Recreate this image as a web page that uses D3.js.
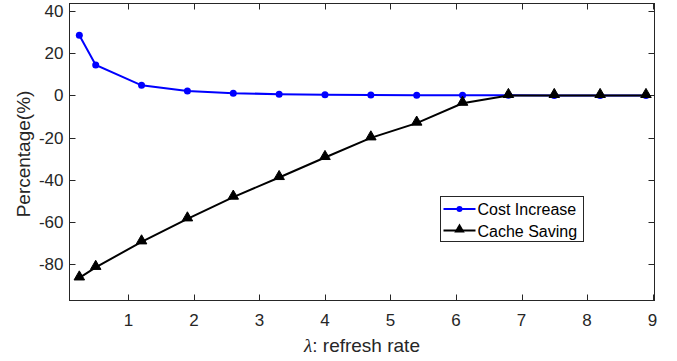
<!DOCTYPE html>
<html>
<head>
<meta charset="utf-8">
<script src="https://cdn.jsdelivr.net/npm/d3@7"></script>
<style>
  body { margin: 0; background: #fff; }
  text { font-family: "Liberation Sans", Arial, sans-serif; }
</style>
</head>
<body>
<div id="chart"></div>
<script>
const refreshRate = [0.25, 0.5, 1.2, 1.9, 2.6, 3.3, 4.0, 4.7, 5.4, 6.1, 6.8, 7.5, 8.2, 8.9];
const costIncrease = [28.5, 14.5, 4.8, 2.1, 1.1, 0.6, 0.35, 0.2, 0.15, 0.1, 0.05, 0, 0, 0];
const cacheSaving = [-86.5, -81.5, -69.4, -58.5, -48.2, -38.9, -29.4, -20.1, -13.1, -3.7, 0, 0, 0, 0];
const xTicks = [1, 2, 3, 4, 5, 6, 7, 8, 9];
const yTicks = [-80, -60, -40, -20, 0, 20, 40];

const width = 677;
const height = 361;
const plotL = 69.5, plotR = 654.5, plotT = 3.5, plotB = 300.5;
const axisColor = '#262626';

// Scales
var x = d3.scaleLinear().domain([0.1, 9.03]).range([plotL, plotR]);
var y = d3.scaleLinear().domain([-97.2, 43.6]).range([plotB, plotT]);

var svg = d3.select('#chart')
  .append('svg')
  .attr('width', width)
  .attr('height', height);

// Box
svg.append('rect')
  .attr('x', plotL).attr('y', plotT)
  .attr('width', plotR - plotL).attr('height', plotB - plotT)
  .attr('fill', 'none').attr('stroke', axisColor).attr('stroke-width', 1);

// Ticks on all four sides, pointing inward
var tickLen = 6;
xTicks.forEach(function (t) {
  var px = Math.round(x(t)) + 0.5;
  svg.append('line').attr('x1', px).attr('x2', px).attr('y1', plotB).attr('y2', plotB - tickLen)
    .attr('stroke', axisColor);
  svg.append('line').attr('x1', px).attr('x2', px).attr('y1', plotT).attr('y2', plotT + tickLen)
    .attr('stroke', axisColor);
  svg.append('text').text(t)
    .attr('x', x(t)).attr('y', plotB + 25)
    .attr('text-anchor', 'middle').attr('font-size', '17px').attr('fill', axisColor);
});
yTicks.forEach(function (t) {
  var py = Math.round(y(t)) + 0.5;
  svg.append('line').attr('x1', plotL).attr('x2', plotL + tickLen).attr('y1', py).attr('y2', py)
    .attr('stroke', axisColor);
  svg.append('line').attr('x1', plotR).attr('x2', plotR - tickLen).attr('y1', py).attr('y2', py)
    .attr('stroke', axisColor);
  svg.append('text').text(t)
    .attr('x', plotL - 6).attr('y', y(t) + 6)
    .attr('text-anchor', 'end').attr('font-size', '17px').attr('fill', axisColor);
});

// Axis labels
svg.append('text')
  .attr('x', 362).attr('y', 352)
  .attr('text-anchor', 'middle').attr('font-size', '19px').attr('fill', axisColor)
  .html('<tspan font-style="italic" font-family="Liberation Serif, serif">λ</tspan>: refresh rate');
svg.append('text')
  .text('Percentage(%)')
  .attr('transform', 'translate(30,' + ((plotT + plotB) / 2 + 2) + ') rotate(-90)')
  .attr('text-anchor', 'middle').attr('font-size', '19px').attr('fill', axisColor);

var line = d3.line().x(function (d) { return x(d[0]); }).y(function (d) { return y(d[1]); });
var blueData = refreshRate.map(function (r, i) { return [r, costIncrease[i]]; });
var blackData = refreshRate.map(function (r, i) { return [r, cacheSaving[i]]; });

var tri = d3.symbol().type(d3.symbolTriangle).size(48);

// Cost increase
svg.append('path').datum(blueData).attr('d', line)
  .attr('fill', 'none').attr('stroke', '#0000ff').attr('stroke-width', 2);
svg.selectAll('.dot').data(blueData).enter().append('circle')
  .attr('class', 'dot')
  .attr('cx', function (d) { return x(d[0]); })
  .attr('cy', function (d) { return y(d[1]); })
  .attr('r', 3.5).attr('fill', '#0000ff');

// Cache saving
svg.append('path').datum(blackData).attr('d', line)
  .attr('fill', 'none').attr('stroke', '#000').attr('stroke-width', 2);
svg.selectAll('.tri').data(blackData).enter().append('path')
  .attr('class', 'tri')
  .attr('d', tri)
  .attr('transform', function (d) { return 'translate(' + x(d[0]) + ',' + (y(d[1]) - 1) + ')'; })
  .attr('fill', '#000').attr('stroke', '#000').attr('stroke-width', 1);

// Legend
var lg = svg.append('g').attr('transform', 'translate(440.5,196.5)');
lg.append('rect').attr('width', 143).attr('height', 45)
  .attr('fill', '#fff').attr('stroke', axisColor).attr('stroke-width', 1);
var items = [
  { name: 'Cost Increase', color: '#0000ff', mark: 'dot' },
  { name: 'Cache Saving', color: '#000', mark: 'tri' }
];
items.forEach(function (it, i) {
  var cy = 12.5 + i * 21.5;
  lg.append('line').attr('x1', 3).attr('x2', 35).attr('y1', cy).attr('y2', cy)
    .attr('stroke', it.color).attr('stroke-width', 2);
  if (it.mark === 'dot') {
    lg.append('circle').attr('cx', 19).attr('cy', cy).attr('r', 3).attr('fill', it.color);
  } else {
    lg.append('path').attr('d', tri).attr('transform', 'translate(19,' + (cy - 1) + ')')
      .attr('fill', '#000');
  }
  lg.append('text').text(it.name)
    .attr('x', 37).attr('y', cy + 6)
    .attr('font-size', '16px').attr('fill', '#000');
});
</script>
</body>
</html>
